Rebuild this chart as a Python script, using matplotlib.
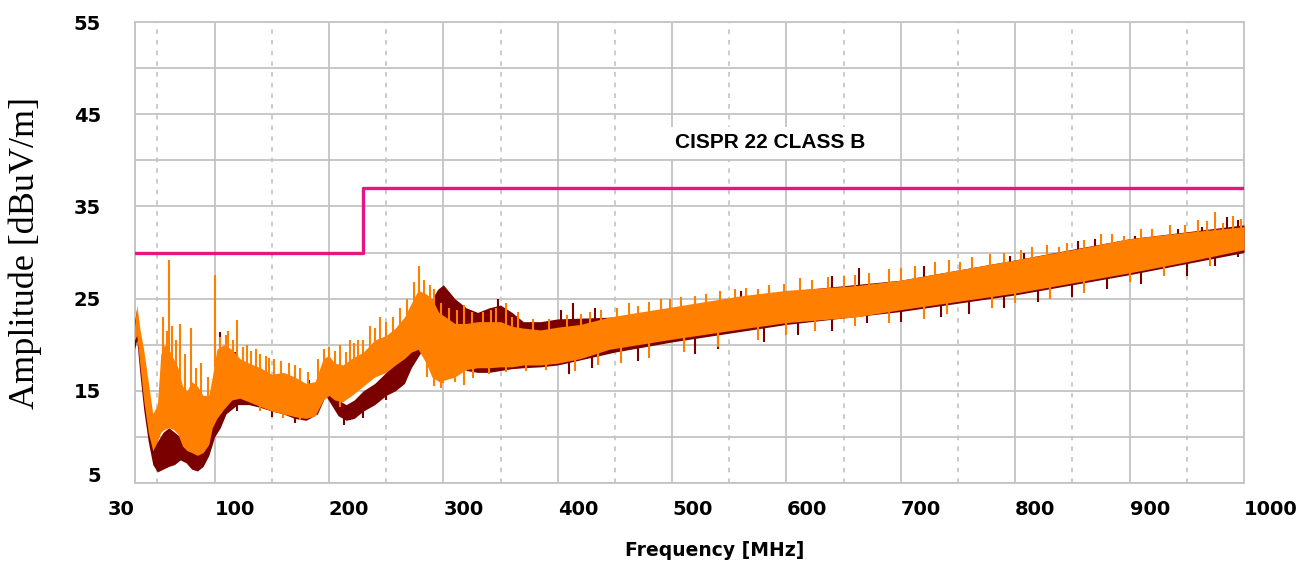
import numpy as np
import matplotlib.pyplot as plt
from matplotlib.transforms import ScaledTranslation

# Limit line (CISPR 22 class B), MHz / dBuV/m
limit_freq = [30, 230, 230, 1000]
limit_level = [30, 30, 37, 37]

# Orange trace: envelope (freq, top, bottom)
orange_freq = [30, 32, 35, 38, 42, 46, 50, 53, 56, 60, 64, 68, 72, 76, 80, 85, 90, 95, 98,
               102, 108, 115, 122, 130, 140, 150, 160, 170, 180, 188, 195, 200, 205, 212,
               220, 230, 240, 250, 258, 266, 272, 278, 285, 290, 296, 302, 310, 320, 330,
               340, 350, 360, 370, 385, 400, 420, 445, 500, 560, 600, 660, 700, 750, 800,
               850, 900, 950, 1000]
orange_top = [22.0, 24.3, 21.5, 19.5, 16.0, 12.5, 13.5, 19.0, 20.0, 19.5, 18.5, 17.5, 15.5,
              15.0, 16.0, 15.5, 14.5, 14.5, 16.5, 19.5, 20.0, 19.5, 18.5, 18.0, 17.5, 16.8,
              17.0, 16.5, 15.8, 16.0, 18.5, 18.8, 18.0, 17.8, 18.5, 19.2, 20.5, 21.0, 21.8,
              23.0, 24.5, 25.9, 25.5, 25.0, 23.5, 23.0, 22.3, 22.3, 22.5, 22.5, 22.5, 22.0,
              21.8, 21.6, 21.9, 22.2, 23.0, 24.1, 25.3, 25.9, 26.4, 27.0, 28.1, 29.2, 30.3,
              31.5, 32.2, 32.8]
orange_bot = [20.5, 21.0, 17.5, 14.0, 10.5, 8.5, 9.5, 10.5, 10.8, 11.0, 10.8, 10.3, 9.0, 8.5,
              8.3, 8.0, 8.3, 9.2, 11.0, 12.0, 13.0, 14.0, 14.2, 13.8, 13.3, 12.8, 12.5, 12.2,
              12.0, 12.3, 14.0, 14.5, 14.0, 13.8, 14.5, 15.5, 16.5, 17.0, 17.8, 18.5, 19.2,
              19.5, 18.0, 16.5, 16.0, 16.2, 16.5, 17.3, 17.5, 17.5, 17.6, 17.6, 17.8, 17.8,
              18.0, 18.5, 19.5, 20.6, 21.7, 22.4, 23.0, 23.8, 24.7, 25.6, 26.7, 27.8, 29.0,
              30.3]

# Dark red trace envelope
red_freq = [30, 32, 35, 38, 42, 46, 50, 55, 60, 65, 70, 75, 80, 85, 90, 95, 100, 105, 110,
            120, 130, 140, 150, 160, 170, 180, 190, 197, 202, 208, 215, 222, 230, 240, 250,
            258, 266, 272, 280, 288, 295, 300, 310, 320, 330, 340, 350, 360, 370, 385, 400,
            450, 500, 600, 700, 800, 900, 1000]
red_top = [22.5, 24.0, 20.5, 18.0, 14.0, 10.0, 9.5, 10.5, 11.0, 10.5, 10.0, 9.5, 9.0, 8.5,
           9.5, 11.5, 12.5, 14.0, 14.5, 15.5, 15.5, 15.0, 14.8, 14.5, 14.3, 14.0, 14.5, 16.5,
           15.5, 14.0, 13.5, 14.0, 15.0, 15.8, 17.0, 19.0, 21.5, 22.5, 23.0, 24.5, 26.0, 26.5,
           25.0, 24.0, 23.5, 24.0, 24.3, 23.5, 22.5, 22.5, 22.8, 23.0, 24.0, 25.8, 27.0, 29.2,
           31.5, 33.0]
red_bot = [19.5, 20.5, 16.5, 13.0, 9.5, 7.0, 6.2, 6.5, 6.8, 7.0, 7.5, 7.2, 6.5, 6.3, 6.8,
           8.0, 10.0, 11.0, 12.5, 13.5, 13.5, 13.2, 12.8, 12.5, 12.0, 11.8, 12.5, 14.5, 13.5,
           12.3, 11.8, 12.0, 12.8, 13.5, 14.5, 15.0, 15.8, 17.5, 19.1, 19.5, 20.0, 20.5, 20.3,
           17.2, 17.0, 17.0, 17.2, 17.4, 17.5, 17.6, 17.8, 19.2, 20.3, 22.2, 23.6, 25.4, 27.6,
           30.0]

# Peaks sticking up out of the orange band (freq, level)
orange_spk_f = [55, 58, 60.3, 63, 66, 70, 74, 79.6, 84, 88, 94, 100.8, 105, 110, 112, 116,
                120, 125, 128, 132, 136, 140, 145, 148, 152, 158, 165, 170, 175, 182, 190,
                196, 200, 205, 210, 215, 218, 222, 225, 230, 236, 240, 245, 250, 256, 262,
                268, 274, 279, 283, 288, 292, 298, 305, 312, 318, 325, 335, 342, 346, 355,
                360, 365, 378, 392, 408, 420, 428, 438, 452, 462, 470, 480, 490, 498, 508,
                520, 530, 542, 555, 565, 575, 585, 598, 612, 622, 636, 650, 660, 672, 690,
                700, 712, 730, 742, 752, 762, 778, 790, 805, 815, 828, 838, 845, 860, 875,
                885, 895, 910, 920, 935, 948, 960, 968, 975, 982, 990, 997]
orange_spk_v = [23.0, 21.5, 29.2, 22.0, 20.5, 22.2, 19.0, 21.8, 17.5, 18.0, 16.5, 27.6, 20.8,
                21.0, 21.5, 20.5, 22.7, 19.8, 20.0, 19.3, 19.5, 19.0, 18.8, 18.6, 18.5, 18.2,
                18.0, 17.8, 17.5, 17.0, 18.5, 19.5, 19.8, 19.3, 20.0, 19.2, 20.5, 20.2, 20.5,
                20.5, 22.0, 21.8, 23.0, 22.5, 23.0, 24.0, 25.0, 26.8, 28.5, 27.0, 26.5, 26.0,
                24.5, 24.0, 23.8, 24.3, 23.6, 23.5, 23.8, 24.0, 24.5, 23.0, 23.5, 22.8, 22.8,
                23.2, 23.3, 23.5, 23.8, 24.0, 24.5, 24.2, 24.6, 25.0, 25.0, 25.2, 25.3, 25.5,
                25.8, 26.0, 26.2, 26.0, 26.5, 26.6, 27.2, 27.0, 27.3, 27.4, 27.6, 27.8, 28.2,
                28.3, 28.5, 29.0, 29.2, 29.0, 29.5, 29.8, 30.0, 30.3, 30.6, 30.8, 30.6, 31.0,
                31.4, 32.0, 32.0, 31.8, 32.5, 32.5, 33.0, 33.0, 33.5, 33.4, 34.4, 33.2, 34.0,
                33.6]
# Dips hanging below the orange band
orange_dip_f = [140, 160, 175, 190, 210, 286, 292, 298, 300, 310, 318, 326, 340, 355, 372,
                390, 415, 435, 455, 480, 510, 540, 575, 600, 625, 660, 690, 720, 740, 780,
                800, 830, 860, 900, 930, 970]
orange_dip_v = [12.8, 12.0, 11.8, 13.0, 13.2, 16.5, 15.5, 15.3, 15.8, 16.0, 15.6, 16.4, 16.8,
                17.0, 17.2, 17.3, 17.2, 17.8, 18.0, 18.6, 19.2, 19.8, 20.5, 21.0, 21.5, 22.0,
                22.3, 22.8, 23.3, 24.0, 24.5, 25.0, 25.6, 26.8, 27.5, 28.5]

# Dark red peaks and dips
red_spk_f = [105, 118, 133, 182.5, 348, 403, 413, 433, 520, 560, 585, 640, 663, 720, 795,
             808, 855, 870, 905, 942, 963, 985, 995]
red_spk_v = [21.4, 19.2, 17.6, 16.2, 25.0, 23.8, 24.5, 24.0, 25.0, 25.8, 26.0, 27.5, 28.3,
             28.5, 29.6, 30.0, 31.3, 31.5, 31.8, 32.6, 32.8, 33.8, 33.5]
red_dip_f = [120, 150, 170, 213, 230, 250, 410, 430, 470, 520, 540, 580, 610, 640, 670, 700,
             735, 760, 790, 820, 850, 880, 910, 950, 975, 995]
red_dip_v = [12.8, 12.2, 11.5, 11.3, 12.0, 14.0, 16.8, 17.5, 18.2, 19.0, 19.5, 20.3, 21.0,
             21.5, 22.3, 22.5, 23.0, 23.3, 24.0, 24.6, 25.2, 26.0, 26.6, 27.5, 28.5, 29.5]

x_labels = ['30', '100', '200', '300', '400', '500', '600', '700', '800', '900', '1000']
y_labels = ['5', '15', '25', '35', '45', '55']

ORANGE = '#ff8000'
DARKRED = '#7a0000'
PINK = '#e8157f'
GRID = '#c4c4c4'

fig = plt.figure(figsize=(13.06, 5.65), dpi=100)
ax = fig.add_axes([134.5 / 1306, 1 - 483 / 565, (1244 - 134.5) / 1306, (483 - 22) / 565])

# dark red trace behind, orange on top
ax.fill_between(red_freq, red_bot, red_top, color=DARKRED, lw=0, zorder=3)
ax.vlines(red_spk_f, np.interp(red_spk_f, red_freq, red_top) - 1, red_spk_v,
          color=DARKRED, lw=1.5, zorder=3)
ax.vlines(red_dip_f, red_dip_v, np.interp(red_dip_f, red_freq, red_bot) + 1,
          color=DARKRED, lw=1.5, zorder=3)
ax.fill_between(orange_freq, orange_bot, orange_top, color=ORANGE, lw=0, zorder=4)
ax.vlines(orange_spk_f, np.interp(orange_spk_f, orange_freq, orange_top) - 1, orange_spk_v,
          color=ORANGE, lw=1.5, zorder=4)
ax.vlines(orange_dip_f, orange_dip_v, np.interp(orange_dip_f, orange_freq, orange_bot) + 1,
          color=ORANGE, lw=1.5, zorder=4)

ax.plot(limit_freq, limit_level, color=PINK, lw=2.4, zorder=5)
ax.text(586, 41.9, 'CISPR 22 CLASS B', ha='center', va='center', fontsize=15,
        family='Liberation Sans', fontweight='bold', zorder=6,
        bbox=dict(boxstyle='square,pad=0.3', fc='white', ec='none'))

ax.set_xlim(30, 1000)
ax.set_ylim(5, 55)
ax.set_xticks([30, 100, 200, 300, 400, 500, 600, 700, 800, 900, 1000])
ax.set_xticklabels(x_labels)
ax.set_xticks(np.arange(50, 1000, 100), minor=True)
ax.set_yticks([5, 15, 25, 35, 45, 55])
ax.set_yticklabels(y_labels)
ax.set_yticks([10, 20, 30, 40, 50], minor=True)
ax.grid(True, which='major', axis='both', color=GRID, lw=1.3, zorder=0)
ax.grid(True, which='minor', axis='y', color=GRID, lw=1.3, zorder=0)
ax.grid(True, which='minor', axis='x', color='#bdbdbd', lw=1.1, ls=(0, (3, 4)), zorder=0)
ax.set_axisbelow(True)
for s in ax.spines.values():
    s.set_color(GRID)
    s.set_linewidth(1.3)
ax.tick_params(which='both', length=0)
ax.tick_params(axis='x', pad=12)
ax.tick_params(axis='y', pad=24)
for lab in ax.get_xticklabels():
    lab.set_fontfamily('DejaVu Sans')
    lab.set_fontweight('bold')
    lab.set_fontsize(14)
    lab.set_ha('left')
ax.get_xticklabels()[0].set_ha('right')
for lab in ax.get_yticklabels():
    lab.set_fontfamily('DejaVu Sans')
    lab.set_fontweight('bold')
    lab.set_fontsize(14)
lab5 = ax.get_yticklabels()[0]
lab5.set_transform(lab5.get_transform() + ScaledTranslation(0, 6 / 72, fig.dpi_scale_trans))

fig.text(715 / 1306, 1 - 550 / 565, 'Frequency [MHz]', ha='center', va='center',
         fontsize=13.5, fontweight='bold', family='DejaVu Sans')
fig.text(25 / 1306, 1 - 253 / 565, 'Amplitude [dBuV/m]', ha='center', va='center',
         rotation=90, fontsize=26, family='Liberation Serif')

fig.savefig('out.png', dpi=100)
